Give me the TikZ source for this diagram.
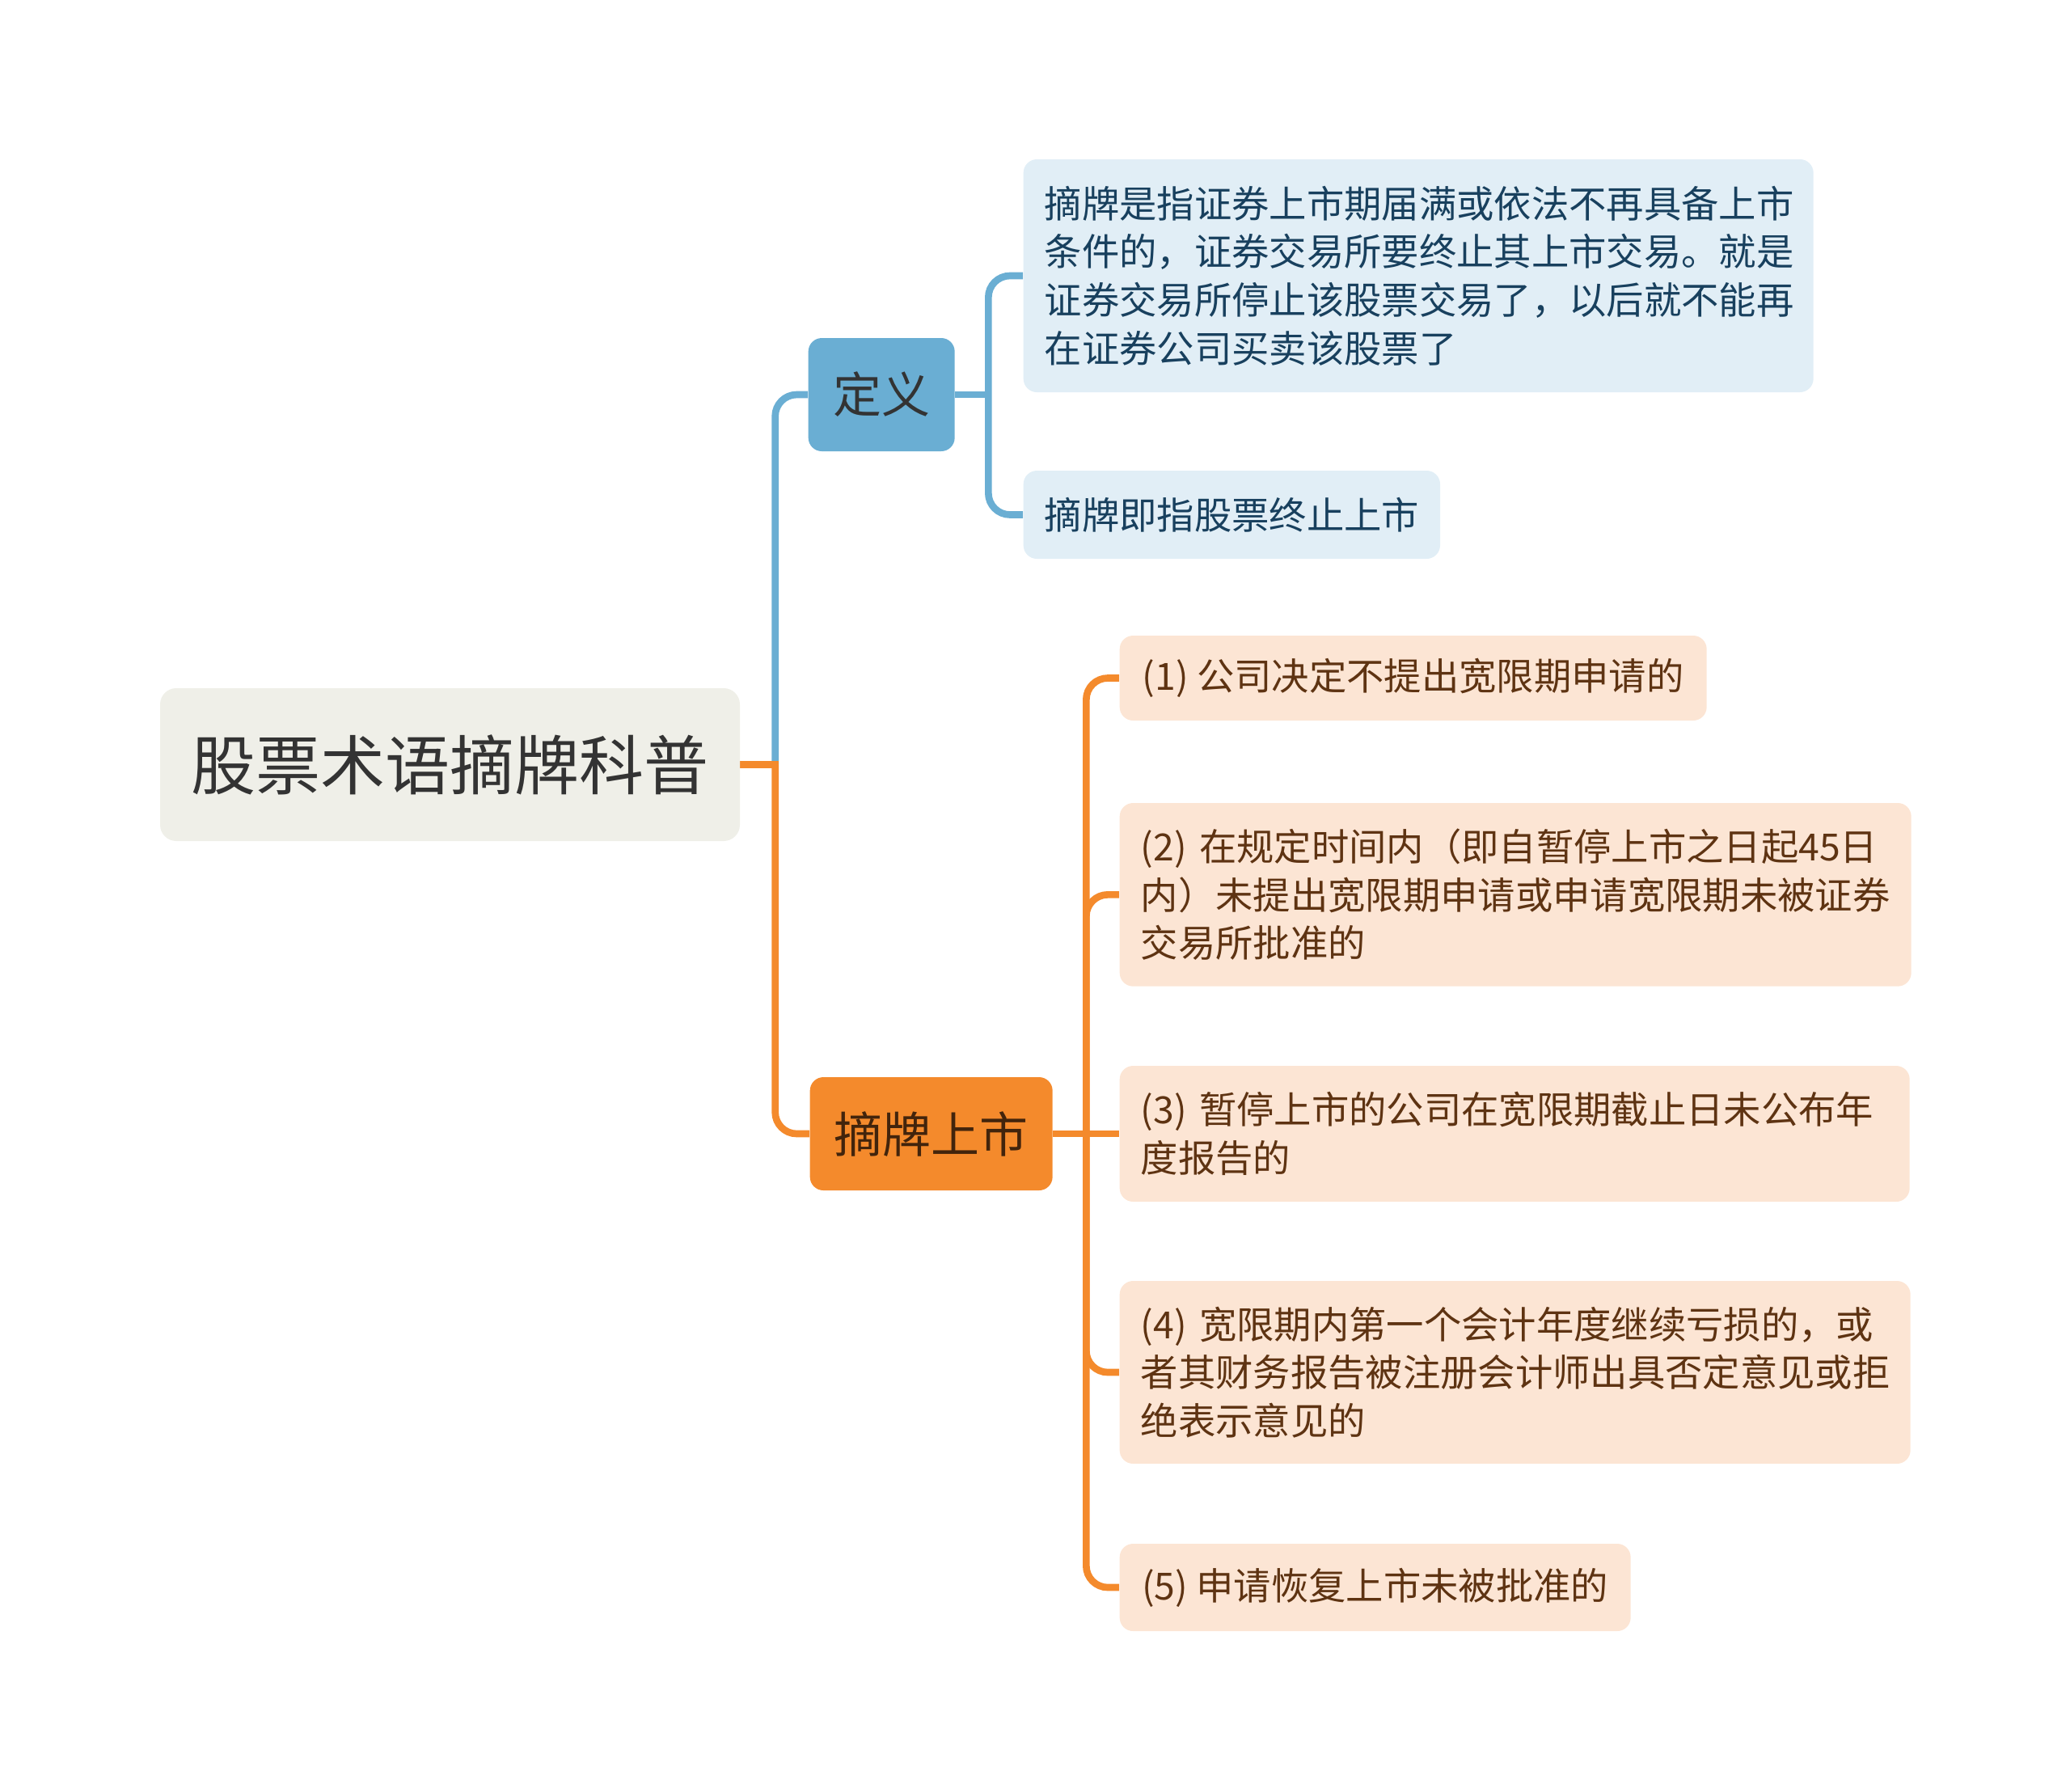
\documentclass[tikz,border=0pt]{standalone}
\usepackage{fontspec}
\setmainfont{Noto Sans CJK SC}
\usetikzlibrary{backgrounds}

\definecolor{rootfill}{HTML}{EFEFE8}
\definecolor{roottext}{HTML}{333333}
\definecolor{defblue}{HTML}{6AAED3}
\definecolor{listorange}{HTML}{F48A2C}
\definecolor{bluelight}{HTML}{E1EEF6}
\definecolor{bluetext}{HTML}{18405E}
\definecolor{orangelight}{HTML}{FCE5D4}
\definecolor{orangetext}{HTML}{5E3312}

\begin{document}
\begin{tikzpicture}[
        x=1pt, y=1pt,
        % 节点样式
        rootbox/.style={
            rectangle, rounded corners=6pt, fill=rootfill, text=roottext,
            minimum width=215.1pt, minimum height=56.7pt,
            font=\fontsize{24}{28}\selectfont
        },
        topic/.style={
            rectangle, rounded corners=5pt, fill=#1, text=roottext,
            minimum height=42pt, anchor=west,
            font=\fontsize{18}{22}\selectfont
        },
        leaf/.style={
            rectangle, rounded corners=5pt, anchor=west, align=left,
            inner xsep=7.8pt, inner ysep=3pt,
            font=\fontsize{13.9}{17.9}\selectfont
        },
        blueleaf/.style={leaf, fill=bluelight, text=bluetext},
        orangeleaf/.style={leaf, fill=orangelight, text=orangetext},
        % 连线样式
        bline/.style={draw=defblue, line width=2.6pt, rounded corners=8pt},
        oline/.style={draw=listorange, line width=2.6pt, rounded corners=8pt}
    ]

    \useasboundingbox (0,0) rectangle (768,-664.5);

    % ================= 节点 =================
    \node[rootbox] (root) at (166.95,-283.65) {股票术语摘牌科普};

    \node[topic=defblue, minimum width=54.3pt] (def) at (299.7,-146.4) {定义};
    \node[topic=listorange, minimum width=90pt, text=orangetext!70!black] (list) at (300.3,-420.6) {摘牌上市};

    \node[blueleaf, text width=277.5pt, minimum height=86.4pt] (d1) at (379.5,-102.3)
        {摘牌是指证券上市期届满或依法不再具备上市\\条件的，证券交易所要终止其上市交易。就是\\证券交易所停止该股票交易了，以后就不能再\\在证券公司买卖该股票了};
    \node[blueleaf, minimum width=153.6pt, minimum height=32.7pt] (d2) at (379.5,-190.95)
        {摘牌即指股票终止上市};

    \node[orangeleaf, minimum width=217.8pt, minimum height=31.5pt] (o1) at (415.2,-251.55)
        {(1)~公司决定不提出宽限期申请的};
    \node[orangeleaf, text width=278.1pt, minimum height=68pt] (o2) at (415.2,-331.9)
        {(2)~在规定时间内（即自暂停上市之日起45日\\内）未提出宽限期申请或申请宽限期未被证券\\交易所批准的};
    \node[orangeleaf, text width=277.5pt, minimum height=50.4pt] (o3) at (415.2,-420.6)
        {(3)~暂停上市的公司在宽限期截止日未公布年\\度报告的};
    \node[orangeleaf, text width=277.8pt, minimum height=67.8pt] (o4) at (415.2,-509.1)
        {(4)~宽限期内第一个会计年度继续亏损的，或\\者其财务报告被注册会计师出具否定意见或拒\\绝表示意见的};
    \node[orangeleaf, minimum width=189.6pt, minimum height=32.4pt] (o5) at (415.2,-588.9)
        {(5)~申请恢复上市未被批准的};

    % 分叉点
    \coordinate (rootfork) at ([xshift=12.9pt]root.east);
    \coordinate (deffork) at ([xshift=12.3pt]def.east);
    \coordinate (listfork) at ([xshift=12.3pt]list.east);

    % ================= 连线 =================
    \begin{scope}[on background layer]
        \draw[bline] (rootfork) |- (def.west);
        \draw[oline, rounded corners=0pt, line cap=rect] (root.east) -- (rootfork);
        \draw[oline] (rootfork) |- (list.west);

        \draw[bline] (def.east) -- (deffork);
        \draw[bline] (d1.west) -| (deffork) |- (d2.west);

        \draw[oline] (list.east) -- (o3.west);
        \draw[oline] (o1.west) -| (listfork) |- (o5.west);
        \draw[oline] (listfork) |- (o2.west);
        \draw[oline] (listfork) |- (o4.west);
    \end{scope}

\end{tikzpicture}
\end{document}
